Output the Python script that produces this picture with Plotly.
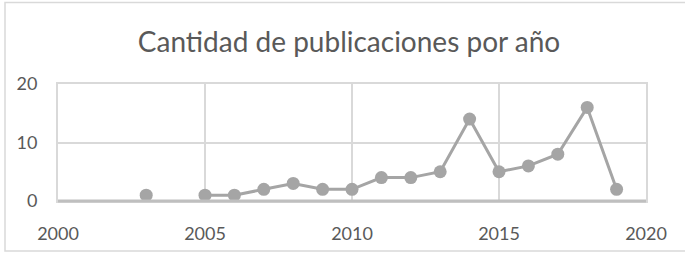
import plotly.graph_objects as go

years = [2003, 2004, 2005, 2006, 2007, 2008, 2009, 2010, 2011, 2012, 2013, 2014, 2015, 2016, 2017, 2018, 2019]
counts = [1, None, 1, 1, 2, 3, 2, 2, 4, 4, 5, 14, 5, 6, 8, 16, 2]
title_text = "Cantidad de publicaciones por año"

W, H = 685, 257
L, R, T, B = 58, 39, 84, 56
FONT = "Lato"
TXT = "#595959"

fig = go.Figure(go.Scatter(
    x=years, y=counts, mode="lines+markers", connectgaps=False,
    line=dict(color="#a5a5a5", width=3),
    marker=dict(color="#a5a5a5", size=13),
    showlegend=False, hoverinfo="x+y",
))

axis_common = dict(
    showgrid=True, gridcolor="#d9d9d9", gridwidth=2,
    showline=True, linecolor="#d9d9d9", linewidth=2, mirror=True,
    zeroline=False, ticks="outside", ticklen=15, tickcolor="rgba(0,0,0,0)",
    tickfont=dict(family=FONT, size=18, color=TXT), automargin=False,
)

fig.update_layout(
    width=W, height=H,
    margin=dict(l=L, r=R, t=T, b=B, autoexpand=False),
    paper_bgcolor="white", plot_bgcolor="white",
    title=dict(text=title_text, x=349 / W, xanchor="center",
               y=1 - 42 / H, yanchor="middle",
               font=dict(family=FONT, size=28, color=TXT)),
    xaxis=dict(range=[2000, 2020], tickvals=[2000, 2005, 2010, 2015, 2020], **axis_common),
    yaxis=dict(range=[0, 20], tickvals=[0, 10, 20], **axis_common),
    shapes=[
        dict(type="line", xref="paper", yref="paper", x0=0, x1=1, y0=0, y1=0,
             line=dict(color="#bfbfbf", width=3), layer="above"),
        dict(type="rect", xref="paper", yref="paper",
             x0=(5 - L) / (W - L - R), x1=(W + 10 - L) / (W - L - R),
             y0=-(251 - (H - B)) / (H - T - B), y1=1 + (T - 2.5) / (H - T - B),
             line=dict(color="#d9d9d9", width=1.5), layer="below"),
    ],
)

fig.write_html("out.html", config={"displayModeBar": False})

# remove default page margin so the figure sits at the window's top-left corner
with open("out.html", "r", encoding="utf-8") as f:
    html = f.read()
html = html.replace("<head>", "<head><style>html,body{margin:0;padding:0;overflow:hidden}</style>", 1)
with open("out.html", "w", encoding="utf-8") as f:
    f.write(html)
